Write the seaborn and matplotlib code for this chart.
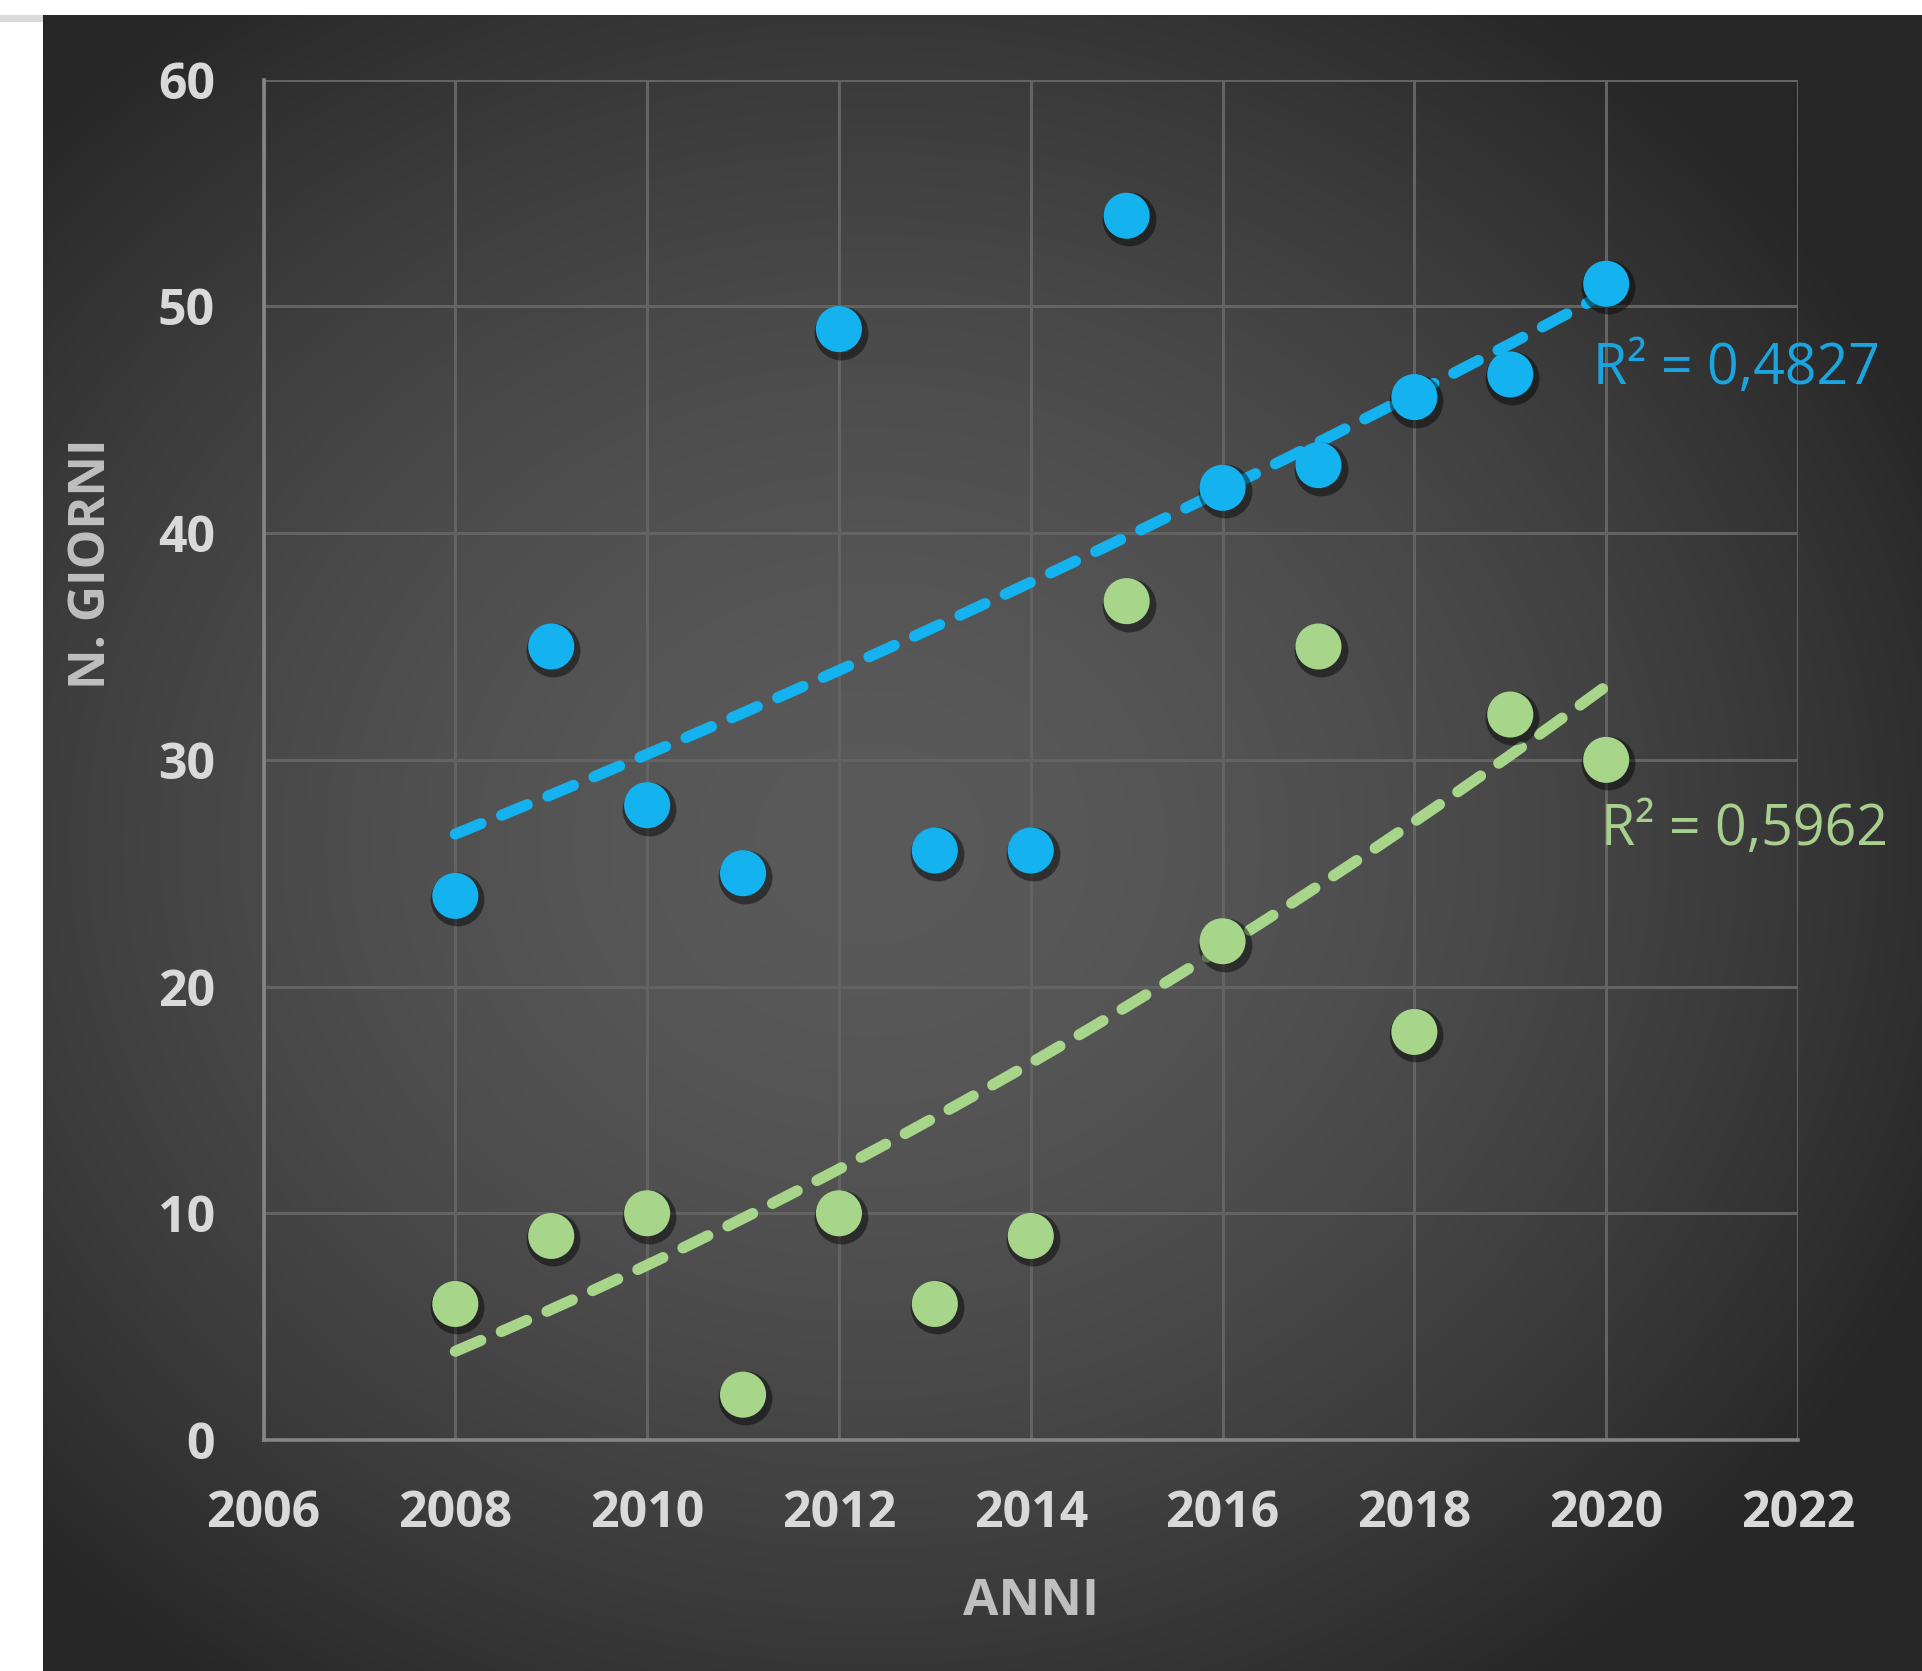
import numpy as np
import pandas as pd
import matplotlib
matplotlib.use("Agg")
import matplotlib.pyplot as plt
import matplotlib.transforms as mtransforms
from matplotlib.patches import Rectangle
import seaborn as sns

# --- data -------------------------------------------------------------
anni = [2008, 2009, 2010, 2011, 2012, 2013, 2014, 2015, 2016, 2017, 2018, 2019, 2020]
giorni_blu = [24, 35, 28, 25, 49, 26, 26, 54, 42, 43, 46, 47, 51]
giorni_verdi = [6, 9, 10, 2, 10, 6, 9, 37, 22, 35, 18, 32, 30]
x_ticks = [2006, 2008, 2010, 2012, 2014, 2016, 2018, 2020, 2022]
y_ticks = [0, 10, 20, 30, 40, 50, 60]

BLUE = "#14b3f0"
BLUE_TXT = "#1aa5e0"
GREEN = "#a7d68b"
GREEN_TXT = "#a9cf8f"
TICK_COL = "#d9d9d9"
LABEL_COL = "#bfbfbf"

df = pd.DataFrame({"anno": anni * 2,
                   "giorni": giorni_blu + giorni_verdi,
                   "serie": ["blu"] * len(anni) + ["verde"] * len(anni)})

sns.set_theme(style="dark")
plt.rcParams['font.family'] = ['Open Sans', 'DejaVu Sans']

W, H = 1922, 1671
fig = plt.figure(figsize=(W / 100, H / 100), dpi=100, facecolor="white")

# dark panel with a soft radial vignette
bg = fig.add_axes([43 / W, 0, 1 - 43 / W, 1 - 15 / H])
gx, gy = np.meshgrid(np.linspace(0, 1, 600), np.linspace(0, 1, 600))
r = np.sqrt(((gx - 0.44) / 0.62) ** 2 + ((gy - 0.50) / 0.62) ** 2)
r = np.clip(r, 0, 1)
shade = 0x5a + (0x27 - 0x5a) * r ** 1.7
rgb = np.dstack([shade, shade, shade]) / 255.0
bg.imshow(rgb, extent=[0, 1, 0, 1], origin="upper", aspect="auto", interpolation="bicubic")
bg.set_axis_off()
fig.patches.append(Rectangle((0, 1 - 22 / H), 43 / W, 7 / H, transform=fig.transFigure,
                             facecolor="#d9d9d9", edgecolor="none"))

ax = fig.add_axes([263.5 / W, 1 - 1440 / H, (1798 - 263.5) / W, (1440 - 79.7) / H])
ax.set_facecolor("none")
ax.set_xlim(2006, 2022)
ax.set_ylim(0, 60)
ax.set_xticks(x_ticks)
ax.set_yticks(y_ticks)
ax.grid(True, color="#636363", linewidth=2.2)
ax.set_axisbelow(True)
for side in ["top", "right"]:
    ax.spines[side].set_visible(False)
for side in ["left", "bottom"]:
    ax.spines[side].set_color("#858585")
    ax.spines[side].set_linewidth(2.6)
ax.tick_params(axis="both", length=0, labelsize=36, labelcolor=TICK_COL, pad=35)
for lab in ax.get_xticklabels() + ax.get_yticklabels():
    lab.set_fontweight("bold")

# polynomial (order 2) trend lines
xs = np.linspace(min(anni), max(anni), 200)
for vals, col in [(giorni_blu, BLUE), (giorni_verdi, GREEN)]:
    coef = np.polyfit(anni, vals, 2)
    ax.plot(xs, np.polyval(coef, xs), color=col, linewidth=8, linestyle=(0, (2.5, 2.0)),
            dash_capstyle="round", zorder=3)

# marker shadows
shadow = ax.transData + mtransforms.ScaledTranslation(1.5 / 72, -2.5 / 72, fig.dpi_scale_trans)
ax.scatter(df["anno"], df["giorni"], s=1500, color="black", alpha=0.45, linewidths=0,
           transform=shadow, zorder=4)

sns.scatterplot(data=df, x="anno", y="giorni", hue="serie",
                palette={"blu": BLUE, "verde": GREEN}, s=1100, linewidth=0,
                legend=False, ax=ax, zorder=5)
ax.set_xlabel("")
ax.set_ylabel("")


def r2_label(vals):
    coef = np.polyfit(anni, vals, 2)
    pred = np.polyval(coef, anni)
    v = np.asarray(vals, dtype=float)
    r2 = 1 - np.sum((v - pred) ** 2) / np.sum((v - v.mean()) ** 2)
    return "R² = " + f"{r2:.4f}".replace(".", ",")


ax.text(2019.86, 47.2, r2_label(giorni_blu), color=BLUE_TXT, fontsize=40,
        ha="left", va="center", clip_on=False, zorder=6)
ax.text(2019.95, 26.9, r2_label(giorni_verdi), color=GREEN_TXT, fontsize=40,
        ha="left", va="center", clip_on=False, zorder=6)

fig.text(841 * 1922 / 1568 / W, 1 - 1602 / H, "ANNI", color=LABEL_COL, fontsize=37,
         fontweight="bold", ha="center", va="center")
fig.text(92 / W, 1 - 564 / H, "N. GIORNI", color=LABEL_COL, fontsize=36,
         fontweight="bold", ha="center", va="center", rotation=90)

fig.savefig("out.png", dpi=100, facecolor="white")
